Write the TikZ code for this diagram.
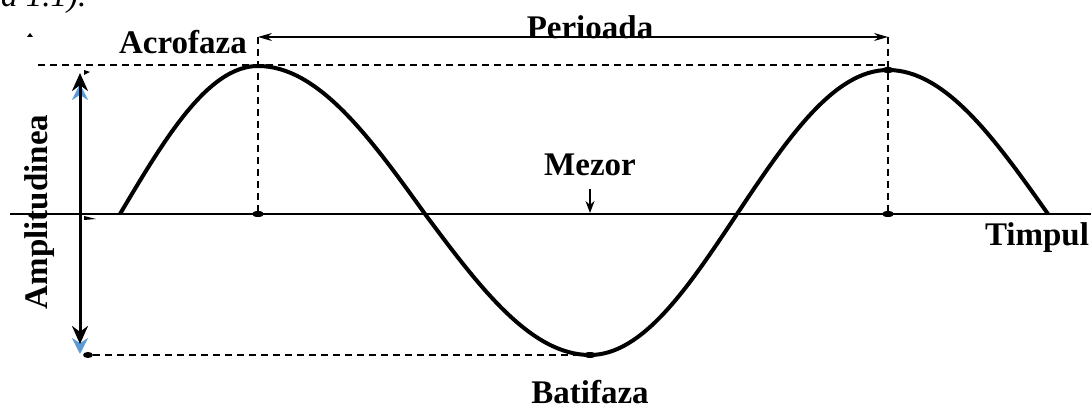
\documentclass[tikz,border=0pt]{standalone}
\usepackage{fontspec}
\setmainfont{Liberation Serif}
\usetikzlibrary{arrows.meta,shapes.geometric}
\definecolor{ampblue}{RGB}{91,155,213}
\begin{document}
\begin{tikzpicture}[x=0.5pt,y=-0.5pt,>=Stealth,every node/.style={font=\fontsize{16.5}{18}\selectfont\bfseries},
  guide/.style={line width=0.6pt,dash pattern=on 3.5pt off 2.5pt},
  dot/.style={fill,ellipse,inner sep=0pt,minimum width=6pt,minimum height=3pt}]
  \useasboundingbox (0,0) rectangle (1091,410);
  \node[anchor=base west,font=\fontsize{16.5}{18}\selectfont\itshape] (cap) at (-6,7) {a 1.1).};
  % axis and wave
  \coordinate (ax0) at (10,214);
  \coordinate (ax1) at (1091,214);
  \draw[line width=0.7pt] (ax0)--(ax1);
  \draw[line width=2pt] (120,214) sin (258,66) cos (425,214) sin (590,355) cos (737,214) sin (888,70) cos (1048,214);
  \node[dot] (z1) at (258,214) {};
  \node[dot] (z2) at (888,214) {};
  \node[dot] (tr) at (590,355) {};
  \node[dot] (pk2) at (888,70) {};
  \node[dot,minimum width=5pt] (bl) at (88,355) {};
  % guides
  \coordinate (tl) at (38,65);
  \coordinate (trt) at (885,65);
  \coordinate (p0) at (258,37);
  \coordinate (p1) at (888,37);
  \draw[guide] (tl)--(trt);
  \draw[guide] (bl)--(tr);
  \draw[guide] (p0)--(z1);
  \draw[guide] (p1)--(z2);
  \draw[<->,line width=0.6pt,>={Stealth[length=7pt,width=4pt]}] (p0)--(p1);
  % amplitude
  \coordinate (a0) at (80,84);
  \coordinate (a1) at (80,354);
  \coordinate (b0) at (80,73);
  \coordinate (b1) at (80,344);
  \draw[<->,ampblue,line width=1.3pt,>={Stealth[length=8pt,width=8pt]}] (a0)--(a1);
  \draw[<->,line width=1.5pt,>={Stealth[length=9pt,width=8pt]}] (b0)--(b1);
  \fill (84,70)--(90,72)--(84,75)--cycle;
  \fill (84,216)--(96,219)--(84,220)--cycle;
  \fill (27,37)--(30,33)--(33,37)--cycle;
  % labels
  \node (acro) at (183,42) {Acrofaza};
  \node (per) at (590,27) {Perioada};
  \node (mez) at (590,165) {Mezor};
  \coordinate (m0) at (590,189);
  \coordinate (m1) at (590,213);
  \draw[->,line width=0.8pt,>={Stealth[length=6pt,width=4.5pt]}] (m0)--(m1);
  \node (tim) at (1037,238) {Timpul};
  \node (bat) at (590,392) {Batifaza};
  \node[rotate=90] (amp) at (40,212) {Amplitudinea};
\end{tikzpicture}
\end{document}
